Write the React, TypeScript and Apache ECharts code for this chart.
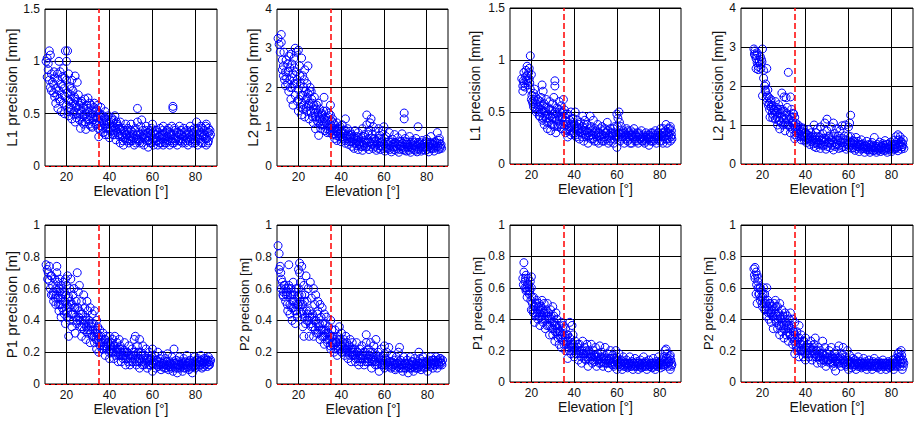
import React, { useEffect, useRef } from "react";
import * as echarts from "echarts";

// ---------- data ----------
const elevationGridTicks = [20, 40, 60, 80];
const cutoffElevation = 35;
const xAxisTitle = "Elevation [°]";
const yAxisTitles = [
  "L1 precision [mm]",
  "L2 precision [mm]",
  "L1 precision [mm]",
  "L2 precision [mm]",
  "P1 precision [m]",
  "P2 precision [m]",
  "P1 precision [m]",
  "P2 precision [m]",
];
const yAxisMax = [1.5, 4, 1.5, 4, 1, 1, 1, 1];
const yAxisInterval = [0.5, 1, 0.5, 1, 0.2, 0.2, 0.2, 0.2];

const l1PrecisionA = [
  [10.5,1.0],[11,1.03],[11.5,0.98],[12,1.1],[12.5,1.06],[11,0.85],[11.5,0.92],[12,0.82],[12.5,0.75],[13,0.72],[13,0.88],[13.5,0.8],[14,0.7],[14,0.78],[14.5,0.66],[14.5,0.84],[15,0.6],[15,0.74],
  [15.5,0.68],[16,0.82],[16,0.55],[16.5,1.0],[16.5,0.72],[17,0.62],[17,0.9],[17.5,0.78],[17.5,0.52],[18,0.68],[18,0.85],[18.5,0.6],[18.5,0.93],[19,0.74],[19,0.5],[19.5,1.1],[19.5,0.66],[20,1.0],[20,0.82],[20,0.58],[20.5,1.1],[20.5,0.7],
  [21,0.88],[21,0.62],[21,0.48],[21.5,0.76],[22,0.55],[22,0.68],[22.5,0.82],[22.5,0.45],[23,0.6],[23,0.72],[23.5,0.52],[24,0.86],[24,0.64],[24,0.42],[24.5,0.56],[25,0.8],[25,0.5],[25.5,0.68],
  [26,0.58],[26,0.44],[26.5,0.36],[27,0.52],[27,0.62],[27.5,0.47],[28,0.4],[28,0.56],[28.5,0.64],[29,0.35],[29,0.5],[29.5,0.45],[30,0.65],[30,0.55],[30.5,0.4],[31,0.48],[31.5,0.58],[32,0.37],[32,0.52],[32.5,0.44],[33,0.6],[33.5,0.48],[34,0.4],[34,0.54],[34.5,0.58],[35,0.28],[35,0.46],
  [35.5,0.5],[36,0.38],[36,0.56],[36.5,0.44],[37,0.32],[37,0.48],[37.5,0.4],[38,0.52],[38,0.3],[38.5,0.44],[39,0.36],[39.5,0.48],[40,0.27],[40,0.4],[40.5,0.34],[41,0.46],[41.5,0.3],[42,0.38],[42,0.44],[42.5,0.48],[43,0.25],[43,0.34],[43.5,0.4],[44,0.3],[44.5,0.36],[45,0.22],[45,0.42],
  [46,0.28],[46,0.36],[46.5,0.2],[47,0.32],[47.5,0.4],[48,0.24],[48,0.3],[48.5,0.36],[49,0.22],[49.5,0.28],[50,0.34],[50,0.4],[50.5,0.24],[51,0.3],[51.5,0.2],[52,0.36],[52.5,0.26],[53,0.55],[53,0.42],[53.5,0.32],[54,0.22],[54.5,0.38],[55,0.44],[55,0.28],[55.5,0.34],[56,0.2],[56.5,0.3],[57,0.38],[57.5,0.24],[58,0.18],[58,0.32],[58.5,0.28],[59,0.22],[59.5,0.36],[60,0.26],[60,0.4],
  [60.5,0.2],[61,0.3],[61.5,0.24],[62,0.34],[62.5,0.2],[63,0.28],[63.5,0.36],[64,0.22],[64.5,0.3],[65,0.2],[65,0.38],[65.5,0.26],[66,0.32],[66.5,0.22],[67,0.28],[67.5,0.36],[68,0.2],[68,0.32],[68.5,0.26],[69,0.38],[69.5,0.57],[69.5,0.55],[70,0.22],[70,0.3],[70.5,0.34],[71,0.26],[71.5,0.2],[72,0.32],[72.5,0.38],[73,0.24],[73.5,0.3],[74,0.22],[74.5,0.36],[75,0.28],[75.5,0.24],[76,0.34],[76.5,0.2],[77,0.3],[77.5,0.38],[78,0.26],[78.5,0.22],[79,0.32],[79.5,0.36],[80,0.24],[80.5,0.42],[80.5,0.3],[81,0.2],[81.5,0.34],[82,0.26],[82.5,0.38],[83,0.3],[83.5,0.22],[84,0.34],[84.5,0.26],[85,0.2],[85,0.4],[85.5,0.32],[86,0.24],[86,0.36],[86.5,0.28],[87,0.3],
];
const l1PrecisionAExtra = [
  [14.25,0.9],[15.75,0.88],[16.75,0.64],[18.25,0.76],[19.25,0.84],[20.75,0.52],[21.25,0.56],[21.75,0.64],[22.25,0.74],[23.25,0.5],[23.75,0.66],[24.25,0.58],[24.75,0.46],[25.25,0.62],[25.75,0.54],[26.25,0.5],[26.75,0.6],[27.25,0.42],[27.75,0.55],[28.25,0.48],[28.75,0.42],[29.25,0.58],[29.75,0.52],[30.25,0.44],[30.75,0.6],[31.25,0.38],[31.75,0.5],[32.25,0.46],[32.75,0.56],[33.25,0.4],[33.75,0.52],[34.25,0.46],[34.75,0.36],
  [35.25,0.42],[35.75,0.34],[36.25,0.48],[36.75,0.36],[37.25,0.42],[37.75,0.46],[38.25,0.36],[38.75,0.4],[39.25,0.3],[39.75,0.42],[40.25,0.36],[40.75,0.44],[41.25,0.38],[41.75,0.34],[42.25,0.3],[42.75,0.36],[43.25,0.42],[43.75,0.32],[44.25,0.38],[44.75,0.28],[45.25,0.34],[45.75,0.3],[46.25,0.24],[46.75,0.34],[47.25,0.26],[47.75,0.3],[48.25,0.34],[48.75,0.26],[49.25,0.32],[49.75,0.24],[50.25,0.28],[50.75,0.32],[51.25,0.26],[51.75,0.34],[52.25,0.22],[52.75,0.3],[53.25,0.26],[53.75,0.24],[54.25,0.3],[54.75,0.26],[55.25,0.22],[55.75,0.3],[56.25,0.26],[56.75,0.34],[57.25,0.28],[57.75,0.32],[58.25,0.24],[58.75,0.34],[59.25,0.3],[59.75,0.22],
  [60.25,0.32],[60.75,0.26],[61.25,0.34],[61.75,0.3],[62.25,0.24],[62.75,0.32],[63.25,0.22],[63.75,0.3],[64.25,0.26],[64.75,0.34],[65.25,0.3],[65.75,0.22],[66.25,0.28],[66.75,0.34],[67.25,0.24],[67.75,0.3],[68.25,0.24],[68.75,0.3],[69.25,0.22],[69.75,0.26],[70.25,0.36],[70.75,0.24],[71.25,0.32],[71.75,0.28],[72.25,0.24],[72.75,0.3],[73.25,0.34],[73.75,0.26],[74.25,0.28],[74.75,0.32],[75.25,0.22],[75.75,0.3],[76.25,0.26],[76.75,0.32],[77.25,0.24],[77.75,0.28],[78.25,0.34],[78.75,0.3],[79.25,0.26],[79.75,0.22],[80.25,0.28],[80.75,0.36],[81.25,0.26],[81.75,0.3],[82.25,0.32],[82.75,0.22],[83.25,0.36],[83.75,0.28],[84.25,0.3],[84.75,0.38],[85.25,0.26],[85.75,0.22],[86.25,0.32],[86.75,0.34],
];

const l2PrecisionA = [
  [10.5,3.25],[11,3.1],[11.5,2.9],[12,3.35],[12,3.15],[12.5,2.7],[12.5,2.45],[13,2.3],[13,2.55],[13.5,2.2],[14,2.4],[14,2.05],[14.5,2.25],[15,2.1],[15,2.6],
  [15.5,2.8],[15.5,1.9],[16,2.5],[16,2.2],[16.5,2.85],[16.5,1.7],[17,2.0],[17,2.6],[17.5,2.35],[17.5,1.55],[18,2.75],[18,2.1],[18.5,3.0],[18.5,1.8],[19,2.9],[19,2.4],[19.5,1.65],[19.5,2.2],[20,2.95],[20,1.95],[20,1.4],
  [20.5,2.55],[21,2.1],[21,1.5],[21.5,2.75],[21.5,1.3],[22,2.3],[22,1.8],[22.5,2.0],[22.5,1.55],[23,2.45],[23,1.25],[23.5,1.7],[24,2.1],[24,1.4],[24.5,2.55],[24.5,1.85],[25,1.6],[25,1.2],[25.5,2.0],
  [26,1.9],[26,1.35],[26.5,1.6],[27,1.1],[27,1.45],[27.5,1.75],[28,1.25],[28,0.95],[28.5,1.55],[29,1.35],[29.5,0.78],[29.5,1.1],[30,1.45],[30,1.2],[30.5,0.95],[31,1.3],[31.5,1.05],[32,1.75],[32,1.2],[32.5,0.9],[33,1.4],[33,1.1],[33.5,0.85],[34,1.25],[34.5,1.0],[35,1.55],[35,1.3],[35,0.9],
  [35.5,1.15],[36,0.8],[36,1.2],[36.5,0.95],[37,1.05],[37,0.7],[37.5,0.88],[38,1.1],[38,0.65],[38.5,0.95],[39,0.75],[39.5,1.0],[40,0.62],[40,0.85],[40.5,1.05],[41,0.7],[41.5,0.9],[42,0.58],[42,1.2],[42.5,0.78],[43,0.95],[43.5,0.55],[44,0.72],[44,0.88],[44.5,0.62],[45,0.8],[45,0.5],
  [46,0.68],[46,0.45],[46.5,0.9],[47,0.58],[47.5,0.75],[48,0.42],[48,0.85],[48.5,0.62],[49,0.5],[49.5,0.72],[50,0.95],[50,0.4],[50.5,0.6],[51,0.8],[51.5,0.48],[52,1.3],[52,1.05],[52.5,0.68],[53,0.9],[53,0.42],[53.5,1.1],[54,1.2],[54,0.58],[54.5,0.8],[55,1.0],[55,0.45],[55.5,0.7],[56,0.88],[56.5,0.4],[57,0.62],[57.5,0.95],[58,0.52],[58,0.78],[58.5,0.42],[59,0.68],[59.5,0.9],[60,0.55],[60,1.0],
  [60.5,0.38],[61,0.75],[61.5,0.6],[62,0.45],[62.5,0.85],[63,0.52],[63.5,0.36],[64,0.68],[64.5,0.48],[65,0.8],[65.5,0.4],[66,0.58],[66.5,0.72],[67,0.35],[67.5,0.5],[68,0.62],[68.5,0.82],[69,0.42],[69.5,1.35],[69.5,1.2],[70,0.55],[70,0.7],[70.5,0.38],[71,0.6],[71.5,0.48],[72,0.75],[72.5,0.35],[73,0.55],[73.5,0.65],[74,0.42],[74.5,0.52],[75,0.7],[75.5,0.36],[76,1.0],[76,0.6],[76.5,0.45],[77,0.55],[77.5,0.38],[78,0.65],[78.5,0.48],[79,0.58],[79.5,0.4],[80,0.68],[80.5,0.5],[81,0.36],[81.5,0.6],[82,0.75],[82.5,0.45],[83,0.55],[83.5,0.38],[84,0.62],[84.5,0.48],[85,0.85],[85.5,0.42],[86,0.58],[86,0.7],[86.5,0.5],[87,0.45],
];
const l2PrecisionAExtra = [
  [13.25,2.9],[14.25,2.7],[15.25,2.4],[16.25,2.0],[17.25,2.25],[18.25,2.5],[19.25,2.1],[20.25,1.7],[20.75,2.3],[21.25,1.8],[21.75,1.6],[22.25,1.45],[22.75,2.2],[23.25,1.9],[23.75,1.5],[24.25,1.75],[24.75,1.55],[25.25,1.9],[25.75,1.4],[26.25,1.7],[26.75,1.25],[27.25,1.55],[27.75,1.35],[28.25,1.45],[28.75,1.15],[29.25,1.6],[29.75,1.25],[30.25,1.05],[30.75,1.35],[31.25,1.15],[31.75,1.4],[32.25,1.05],[32.75,1.25],[33.25,0.95],[33.75,1.15],[34.25,1.35],[34.75,0.85],
  [35.25,1.05],[35.75,0.9],[36.25,1.1],[36.75,0.82],[37.25,0.95],[37.75,0.78],[38.25,0.9],[38.75,0.82],[39.25,0.95],[39.75,0.7],[40.25,0.9],[40.75,0.75],[41.25,0.82],[41.75,0.65],[42.25,0.9],[42.75,0.7],[43.25,0.8],[43.75,0.62],[44.25,0.78],[44.75,0.7],[45.25,0.62],[45.75,0.75],[46.25,0.58],[46.75,0.7],[47.25,0.52],[47.75,0.65],[48.25,0.72],[48.75,0.55],[49.25,0.62],[49.75,0.5],[50.25,0.75],[50.75,0.52],[51.25,0.65],[51.75,0.58],[52.25,0.5],[52.75,0.8],[53.25,0.6],[53.75,0.5],[54.25,0.7],[54.75,0.55],[55.25,0.62],[55.75,0.5],[56.25,0.65],[56.75,0.55],[57.25,0.45],[57.75,0.7],[58.25,0.6],[58.75,0.5],[59.25,0.62],[59.75,0.45],
  [60.25,0.7],[60.75,0.5],[61.25,0.45],[61.75,0.55],[62.25,0.62],[62.75,0.42],[63.25,0.6],[63.75,0.5],[64.25,0.55],[64.75,0.42],[65.25,0.6],[65.75,0.5],[66.25,0.45],[66.75,0.55],[67.25,0.62],[67.75,0.42],[68.25,0.5],[68.75,0.58],[69.25,0.48],[69.75,0.4],[70.25,0.62],[70.75,0.48],[71.25,0.55],[71.75,0.4],[72.25,0.5],[72.75,0.6],[73.25,0.45],[73.75,0.52],[74.25,0.6],[74.75,0.4],[75.25,0.5],[75.75,0.55],[76.25,0.42],[76.75,0.6],[77.25,0.48],[77.75,0.52],[78.25,0.42],[78.75,0.55],[79.25,0.48],[79.75,0.62],[80.25,0.42],[80.75,0.55],[81.25,0.5],[81.75,0.45],[82.25,0.58],[82.75,0.52],[83.25,0.45],[83.75,0.6],[84.25,0.52],[84.75,0.58],[85.25,0.5],[85.75,0.65],[86.25,0.45],[86.75,0.55],
];

const l1PrecisionB = [
  [15.5,0.82],[16,0.75],[16,0.7],[16.5,0.88],[16.5,0.78],[17,0.74],[17.5,0.9],[17.5,0.8],[18,0.94],[18,0.85],[18.5,0.76],[19,0.92],[19,0.82],[19.5,1.04],[19.5,0.72],[20,0.86],[20,0.62],
  [20.5,0.6],[21,0.55],[21,0.68],[21.5,0.72],[22,0.58],[22,0.64],[22.5,0.52],[23,0.62],[23.5,0.5],[24,0.56],[24,0.46],[24.5,0.64],[25,0.76],[25,0.52],[25.5,0.7],[25.5,0.44],
  [26,0.58],[26,0.38],[26.5,0.5],[27,0.62],[27,0.44],[27.5,0.34],[28,0.54],[28,0.4],[28.5,0.6],[29,0.46],[29,0.32],[29.5,0.52],[30,0.58],[30,0.38],[30.5,0.64],[31,0.8],[31,0.75],[31,0.44],[31.5,0.3],[32,0.54],[32,0.48],[32.5,0.36],[33,0.6],[33,0.42],[33.5,0.5],[34,0.34],[34,0.56],[34.5,0.45],[35,0.62],[35,0.38],
  [35.5,0.52],[36,0.3],[36,0.44],[36.5,0.38],[37,0.26],[37,0.48],[37.5,0.34],[38,0.42],[38.5,0.28],[38.5,0.5],[39,0.36],[39.5,0.44],[40,0.3],[40,0.38],[40.5,0.5],[41,0.26],[41.5,0.42],[42,0.34],[42.5,0.24],[43,0.4],[43.5,0.3],[44,0.46],[44,0.36],[44.5,0.22],[45,0.32],[45,0.42],
  [45.5,0.26],[46,0.38],[46.5,0.2],[47,0.3],[47.5,0.46],[48,0.24],[48,0.36],[48.5,0.28],[49,0.42],[49.5,0.22],[50,0.32],[50.5,0.26],[51,0.38],[51.5,0.2],[52,0.3],[52.5,0.24],[53,0.36],[53.5,0.28],[54,0.22],[54.5,0.34],[55,0.3],[55.5,0.4],[56,0.2],[56.5,0.28],[57,0.34],[57.5,0.24],[58,0.3],[58.5,0.2],[59,0.36],[59.5,0.26],[60,0.16],[60,0.48],[60.5,0.44],
  [61,0.5],[61,0.3],[61.5,0.22],[62,0.36],[62.5,0.26],[63,0.32],[63.5,0.2],[64,0.28],[64.5,0.34],[65,0.22],[65.5,0.3],[66,0.24],[66.5,0.32],[67,0.2],[67.5,0.28],[68,0.34],[68.5,0.22],[69,0.26],[69.5,0.3],[70,0.2],[70.5,0.28],[71,0.24],[71.5,0.32],[72,0.22],[72.5,0.26],[73,0.2],[73.5,0.3],[74,0.24],[74.5,0.28],[75,0.18],[75.5,0.26],[76,0.3],[76.5,0.22],[77,0.28],[77.5,0.24],[78,0.32],[78.5,0.2],[79,0.26],[79.5,0.3],[80,0.22],[80.5,0.34],[81,0.26],[81.5,0.2],[82,0.3],[82.5,0.24],[83,0.38],[83,0.28],[83.5,0.2],[84,0.34],[84,0.24],[84.5,0.3],[85,0.22],[85,0.36],[85.5,0.28],[85.5,0.32],
];
const l1PrecisionBExtra = [
  [16.25,0.8],[17.25,0.84],[18.25,0.8],[18.75,0.88],[19.25,0.78],[20.25,0.66],[20.75,0.58],[21.25,0.62],[21.75,0.54],[22.25,0.5],[22.75,0.6],[23.25,0.55],[23.75,0.46],[24.25,0.6],[24.75,0.5],[25.25,0.42],[25.75,0.56],[26.25,0.46],[26.75,0.54],[27.25,0.4],[27.75,0.48],[28.25,0.44],[28.75,0.52],[29.25,0.38],[29.75,0.44],[30.25,0.48],[30.75,0.36],[31.25,0.5],[31.75,0.42],[32.25,0.38],[32.75,0.46],[33.25,0.52],[33.75,0.38],[34.25,0.44],[34.75,0.5],
  [35.25,0.34],[35.75,0.42],[36.25,0.48],[36.75,0.32],[37.25,0.4],[37.75,0.36],[38.25,0.32],[38.75,0.38],[39.25,0.3],[39.75,0.4],[40.25,0.34],[40.75,0.28],[41.25,0.36],[41.75,0.32],[42.25,0.38],[42.75,0.3],[43.25,0.34],[43.75,0.26],[44.25,0.32],[44.75,0.38],[45.25,0.28],[45.75,0.32],[46.25,0.3],[46.75,0.26],[47.25,0.34],[47.75,0.28],[48.25,0.32],[48.75,0.24],[49.25,0.3],[49.75,0.34],[50.25,0.28],[50.75,0.22],[51.25,0.3],[51.75,0.26],[52.25,0.34],[52.75,0.28],[53.25,0.22],[53.75,0.32],[54.25,0.26],[54.75,0.3],[55.25,0.24],[55.75,0.32],[56.25,0.26],[56.75,0.22],[57.25,0.3],[57.75,0.28],[58.25,0.34],[58.75,0.24],[59.25,0.3],[59.75,0.28],
  [60.25,0.36],[60.75,0.26],[61.25,0.4],[61.75,0.28],[62.25,0.24],[62.75,0.3],[63.25,0.26],[63.75,0.3],[64.25,0.24],[64.75,0.28],[65.25,0.32],[65.75,0.26],[66.25,0.2],[66.75,0.28],[67.25,0.26],[67.75,0.3],[68.25,0.24],[68.75,0.28],[69.25,0.22],[69.75,0.26],[70.25,0.3],[70.75,0.24],[71.25,0.26],[71.75,0.22],[72.25,0.28],[72.75,0.24],[73.25,0.26],[73.75,0.22],[74.25,0.26],[74.75,0.24],[75.25,0.28],[75.75,0.22],[76.25,0.26],[76.75,0.3],[77.25,0.22],[77.75,0.26],[78.25,0.28],[78.75,0.24],[79.25,0.3],[79.75,0.26],[80.25,0.28],[80.75,0.22],[81.25,0.3],[81.75,0.34],[82.25,0.26],[82.75,0.32],[83.25,0.24],[83.75,0.3],[84.25,0.28],[84.75,0.34],[85.25,0.26],[85.75,0.24],
];

const l2PrecisionB = [
  [16,2.95],[16.5,2.9],[16.5,2.78],[17,2.7],[17,2.45],[17.5,2.6],[17.5,2.85],[18,2.5],[18,2.42],[18.5,2.65],[19,2.75],[19,2.55],[19.5,2.68],[20,2.95],[20,1.75],[20.5,2.2],[20.5,2.4],
  [21,2.0],[21.5,1.85],[21.5,2.05],[22,2.45],[22,1.6],[22.5,1.9],[23,1.55],[23,1.7],[23.5,1.2],[24,1.45],[24,1.65],[24.5,1.3],[25,1.5],[25,1.25],
  [25.5,1.38],[26,1.6],[26,1.15],[26.5,1.45],[27,1.0],[27,1.3],[27.5,1.52],[28,1.12],[28,0.9],[28.5,1.4],[29,1.82],[29,1.2],[29.5,1.0],[30,1.72],[30,1.35],[30.5,0.85],[31,1.7],[31,1.15],[31.5,1.45],[32,2.35],[32,1.0],[32.5,1.25],[33,1.72],[33,0.8],[33.5,1.4],[34,1.1],[34,0.9],[34.5,1.28],[35,0.65],[35,1.2],[35,0.75],
  [35.5,1.05],[36,0.9],[36,0.7],[36.5,1.0],[37,0.78],[37.5,0.95],[38,0.62],[38,0.85],[38.5,0.72],[39,0.92],[39.5,0.6],[40,0.8],[40,0.68],[40.5,0.55],[41,0.75],[41.5,0.88],[42,0.5],[42,0.65],[42.5,0.8],[43,0.58],[43.5,0.72],[44,0.45],[44,1.0],[44.5,0.62],[45,0.8],[45,0.42],
  [45.5,0.9],[46,0.55],[46.5,0.7],[47,0.4],[47,0.95],[47.5,0.62],[48,0.78],[48.5,0.48],[49,1.05],[49,0.65],[49.5,0.38],[50,1.15],[50,0.85],[50.5,0.55],[51,0.72],[51.5,0.42],[52,0.95],[52.5,0.6],[53,1.05],[53,0.36],[53.5,0.78],[54,0.5],[54.5,0.9],[55,0.62],[55.5,0.4],[56,0.85],[56.5,0.55],[57,0.98],[57.5,0.45],[58,0.72],[58.5,1.0],[59,0.38],[59.5,0.6],[60,0.95],[60,0.5],
  [60.5,1.05],[61,1.25],[61,0.7],[61.5,0.4],[62,0.6],[62.5,0.5],[63,0.35],[63.5,0.68],[64,0.45],[64.5,0.58],[65,0.32],[65.5,0.5],[66,0.62],[66.5,0.4],[67,0.52],[67.5,0.3],[68,0.46],[68.5,0.58],[69,0.36],[69.5,0.5],[70,0.3],[70.5,0.44],[71,0.55],[71.5,0.34],[72,0.68],[72.5,0.42],[73,0.3],[73.5,0.5],[74,0.38],[74.5,0.56],[75,0.32],[75.5,0.45],[76,0.52],[76.5,0.35],[77,0.6],[77.5,0.42],[78,0.3],[78.5,0.5],[79,0.38],[79.5,0.56],[80,0.32],[80.5,0.46],[81,0.6],[81.5,0.38],[82,0.7],[82,0.5],[82.5,0.42],[83,0.75],[83,0.34],[83.5,0.62],[84,0.48],[84,0.7],[84.5,0.38],[85,0.55],[85,0.44],[85.5,0.62],
];
const l2PrecisionBExtra = [
  [16.25,2.82],[17.25,2.78],[18.25,2.6],[19.25,2.45],[19.75,2.62],[21.25,1.9],[21.75,1.7],[22.25,1.75],[22.75,1.5],[23.25,1.4],[23.75,1.6],[24.25,1.5],[24.75,1.18],[25.25,1.4],[25.75,1.3],[26.25,1.35],[26.75,1.2],[27.25,1.4],[27.75,1.1],[28.25,1.3],[28.75,1.05],[29.25,1.4],[29.75,1.15],[30.25,1.25],[30.75,1.05],[31.25,1.3],[31.75,1.0],[32.25,1.15],[32.75,0.95],[33.25,1.2],[33.75,1.05],[34.25,1.3],[34.75,1.0],
  [35.25,0.9],[35.75,0.8],[36.25,0.95],[36.75,0.85],[37.25,0.7],[37.75,0.82],[38.25,0.75],[38.75,0.88],[39.25,0.7],[39.75,0.8],[40.25,0.62],[40.75,0.75],[41.25,0.65],[41.75,0.72],[42.25,0.58],[42.75,0.7],[43.25,0.62],[43.75,0.52],[44.25,0.68],[44.75,0.55],[45.25,0.62],[45.75,0.5],[46.25,0.68],[46.75,0.52],[47.25,0.6],[47.75,0.48],[48.25,0.66],[48.75,0.56],[49.25,0.5],[49.75,0.62],[50.25,0.45],[50.75,0.7],[51.25,0.55],[51.75,0.62],[52.25,0.48],[52.75,0.7],[53.25,0.55],[53.75,0.45],[54.25,0.62],[54.75,0.5],[55.25,0.72],[55.75,0.48],[56.25,0.6],[56.75,0.42],[57.25,0.65],[57.75,0.55],[58.25,0.45],[58.75,0.62],[59.25,0.5],[59.75,0.72],
  [60.25,0.42],[60.75,0.55],[61.25,0.48],[61.75,0.55],[62.25,0.42],[62.75,0.58],[63.25,0.48],[63.75,0.4],[64.25,0.52],[64.75,0.44],[65.25,0.48],[65.75,0.38],[66.25,0.5],[66.75,0.45],[67.25,0.4],[67.75,0.48],[68.25,0.38],[68.75,0.44],[69.25,0.42],[69.75,0.36],[70.25,0.48],[70.75,0.38],[71.25,0.42],[71.75,0.46],[72.25,0.36],[72.75,0.45],[73.25,0.4],[73.75,0.35],[74.25,0.46],[74.75,0.4],[75.25,0.42],[75.75,0.36],[76.25,0.48],[76.75,0.4],[77.25,0.35],[77.75,0.5],[78.25,0.42],[78.75,0.38],[79.25,0.46],[79.75,0.4],[80.25,0.5],[80.75,0.38],[81.25,0.44],[81.75,0.5],[82.25,0.4],[82.75,0.6],[83.25,0.45],[83.75,0.52],[84.25,0.58],[84.75,0.44],[85.25,0.5],[85.75,0.4],
];

const p1PrecisionA = [
  [10.5,0.75],[11,0.72],[11.5,0.7],[12,0.74],[12,0.65],[12.5,0.6],[13,0.56],[13,0.68],[13.5,0.62],[14,0.52],[14,0.58],[14.5,0.66],[15,0.5],[15,0.6],
  [15.5,0.74],[15.5,0.7],[16,0.64],[16,0.54],[16.5,0.6],[16.5,0.46],[17,0.58],[17,0.5],[17.5,0.42],[17.5,0.62],[18,0.56],[18,0.48],[18.5,0.52],[18.5,0.64],[19,0.44],[19,0.58],[19.5,0.66],[19.5,0.38],[20,0.5],[20,0.62],
  [20.5,0.68],[20.5,0.45],[21,0.3],[21,0.55],[21.5,0.6],[21.5,0.4],[22,0.66],[22,0.5],[22.5,0.36],[23,0.56],[23,0.44],[23.5,0.6],[24,0.32],[24,0.48],[24.5,0.52],[25,0.7],[25,0.4],[25.5,0.58],
  [26,0.46],[26,0.62],[26.5,0.36],[27,0.52],[27,0.3],[27.5,0.44],[28,0.56],[28,0.38],[28.5,0.48],[29,0.28],[29,0.42],[29.5,0.52],[30,0.34],[30,0.46],[30.5,0.4],[31,0.26],[31,0.48],[31.5,0.36],[32,0.3],[32,0.44],[32.5,0.38],[33,0.46],[33,0.26],[33.5,0.32],[34,0.4],[34,0.22],[34.5,0.36],[35,0.2],[35,0.3],
  [35.5,0.34],[36,0.26],[36,0.3],[36.5,0.22],[37,0.32],[37.5,0.24],[38,0.28],[38,0.18],[38.5,0.3],[39,0.22],[39.5,0.26],[40,0.16],[40,0.3],[40.5,0.24],[41,0.2],[41.5,0.28],[42,0.16],[42,0.24],[42.5,0.3],[43,0.2],[43.5,0.26],[44,0.14],[44,0.22],[44.5,0.28],[45,0.18],[45,0.24],
  [45.5,0.14],[46,0.22],[46.5,0.18],[47,0.26],[47.5,0.12],[48,0.2],[48.5,0.16],[49,0.24],[49.5,0.12],[50,0.18],[50.5,0.22],[51,0.14],[51.5,0.28],[52,0.3],[52,0.2],[52.5,0.12],[53,0.24],[53.5,0.16],[54,0.28],[54,0.1],[54.5,0.2],[55,0.14],[55.5,0.24],[56,0.12],[56.5,0.18],[57,0.22],[57.5,0.1],[58,0.16],[58.5,0.2],[59,0.12],[59.5,0.18],[60,0.08],[60,0.22],
  [60.5,0.14],[61,0.18],[61.5,0.1],[62,0.15],[62.5,0.2],[63,0.12],[63.5,0.16],[64,0.09],[64.5,0.18],[65,0.13],[65.5,0.1],[66,0.16],[66.5,0.12],[67,0.19],[67.5,0.09],[68,0.14],[68.5,0.11],[69,0.17],[69.5,0.08],[70,0.22],[70,0.13],[70.5,0.1],[71,0.15],[71.5,0.07],[72,0.12],[72.5,0.17],[73,0.1],[73.5,0.14],[74,0.08],[74.5,0.16],[75,0.12],[75.5,0.1],[76,0.18],[76.5,0.13],[77,0.09],[77.5,0.15],[78,0.11],[78.5,0.07],[79,0.14],[79.5,0.17],[80,0.1],[80.5,0.13],[81,0.16],[81.5,0.11],[82,0.14],[82.5,0.18],[83,0.1],[83.5,0.13],[84,0.16],[84.5,0.12],[85,0.15],[85.5,0.11],[86,0.14],[86,0.17],[86.5,0.12],[87,0.15],
];
const p1PrecisionAExtra = [
  [11.25,0.66],[12.75,0.68],[13.75,0.56],[14.75,0.54],[15.25,0.56],[16.25,0.5],[16.75,0.66],[17.25,0.54],[17.75,0.5],[18.25,0.6],[18.75,0.46],[19.25,0.52],[19.75,0.56],[20.25,0.42],[20.75,0.54],[21.25,0.48],[21.75,0.52],[22.25,0.44],[22.75,0.5],[23.25,0.4],[23.75,0.48],[24.25,0.42],[24.75,0.38],[25.25,0.48],[25.75,0.42],[26.25,0.4],[26.75,0.44],[27.25,0.36],[27.75,0.4],[28.25,0.34],[28.75,0.4],[29.25,0.36],[29.75,0.32],[30.25,0.38],[30.75,0.34],[31.25,0.32],[31.75,0.38],[32.25,0.34],[32.75,0.3],[33.25,0.34],[33.75,0.28],[34.25,0.32],[34.75,0.28],
  [35.25,0.26],[35.75,0.24],[36.25,0.28],[36.75,0.26],[37.25,0.22],[37.75,0.28],[38.25,0.24],[38.75,0.22],[39.25,0.26],[39.75,0.2],[40.25,0.22],[40.75,0.26],[41.25,0.22],[41.75,0.2],[42.25,0.24],[42.75,0.18],[43.25,0.22],[43.75,0.2],[44.25,0.18],[44.75,0.22],[45.25,0.2],[45.75,0.18],[46.25,0.16],[46.75,0.2],[47.25,0.18],[47.75,0.16],[48.25,0.2],[48.75,0.14],[49.25,0.18],[49.75,0.16],[50.25,0.14],[50.75,0.18],[51.25,0.2],[51.75,0.16],[52.25,0.18],[52.75,0.14],[53.25,0.2],[53.75,0.14],[54.25,0.16],[54.75,0.18],[55.25,0.12],[55.75,0.16],[56.25,0.15],[56.75,0.13],[57.25,0.16],[57.75,0.14],[58.25,0.12],[58.75,0.15],[59.25,0.16],[59.75,0.13],
  [60.25,0.12],[60.75,0.15],[61.25,0.13],[61.75,0.12],[62.25,0.14],[62.75,0.11],[63.25,0.14],[63.75,0.12],[64.25,0.13],[64.75,0.11],[65.25,0.14],[65.75,0.12],[66.25,0.1],[66.75,0.14],[67.25,0.12],[67.75,0.11],[68.25,0.13],[68.75,0.1],[69.25,0.12],[69.75,0.14],[70.25,0.11],[70.75,0.13],[71.25,0.12],[71.75,0.1],[72.25,0.14],[72.75,0.12],[73.25,0.11],[73.75,0.13],[74.25,0.12],[74.75,0.1],[75.25,0.14],[75.75,0.12],[76.25,0.11],[76.75,0.14],[77.25,0.12],[77.75,0.1],[78.25,0.13],[78.75,0.12],[79.25,0.11],[79.75,0.14],[80.25,0.12],[80.75,0.15],[81.25,0.12],[81.75,0.14],[82.25,0.12],[82.75,0.15],[83.25,0.13],[83.75,0.11],[84.25,0.14],[84.75,0.16],[85.25,0.13],[85.75,0.15],[86.25,0.12],[86.75,0.14],
];

const p2PrecisionA = [
  [10.5,0.87],[11,0.82],[11,0.72],[11.5,0.74],[12,0.66],[12,0.6],[12.5,0.64],[13,0.58],[13,0.55],[13.5,0.62],[14,0.6],[14,0.52],[14.5,0.58],[15,0.56],[15,0.46],
  [15.5,0.75],[15.5,0.62],[16,0.5],[16,0.44],[16.5,0.6],[17,0.56],[17,0.4],[17.5,0.64],[17.5,0.48],[18,0.52],[18,0.58],[18.5,0.38],[19,0.6],[19,0.46],[19.5,0.55],[19.5,0.42],[20,0.72],[20,0.6],[20,0.5],
  [20.5,0.76],[20.5,0.7],[21,0.64],[21,0.45],[21.5,0.74],[21.5,0.56],[22,0.36],[22,0.5],[22.5,0.62],[22.5,0.3],[23,0.42],[23,0.56],[23.5,0.68],[24,0.4],[24,0.52],[24.5,0.6],[25,0.3],[25,0.46],[25.5,0.64],
  [26,0.54],[26,0.36],[26.5,0.44],[27,0.6],[27,0.3],[27.5,0.5],[28,0.4],[28,0.56],[28.5,0.32],[29,0.46],[29,0.52],[29.5,0.36],[30,0.5],[30,0.28],[30.5,0.42],[31,0.48],[31,0.34],[31.5,0.3],[32,0.44],[32,0.25],[32.5,0.38],[33,0.32],[33,0.42],[33.5,0.26],[34,0.36],[34.5,0.3],[35,0.4],[35,0.22],
  [35.5,0.34],[36,0.26],[36,0.3],[36.5,0.2],[37,0.34],[37.5,0.26],[38,0.3],[38,0.18],[38.5,0.24],[39,0.36],[39.5,0.28],[40,0.2],[40,0.32],[40.5,0.24],[41,0.28],[41.5,0.18],[42,0.3],[42,0.22],[42.5,0.26],[43,0.16],[43.5,0.24],[44,0.28],[44,0.2],[44.5,0.14],[45,0.22],[45,0.26],
  [45.5,0.18],[46,0.22],[46.5,0.14],[47,0.26],[47.5,0.2],[48,0.12],[48.5,0.22],[49,0.16],[49.5,0.24],[50,0.18],[50.5,0.12],[51,0.2],[51.5,0.31],[51.5,0.26],[52,0.14],[52.5,0.22],[53,0.18],[53.5,0.26],[54,0.1],[54.5,0.2],[55,0.24],[55.5,0.14],[56,0.28],[56,0.18],[56.5,0.12],[57,0.2],[57.5,0.08],[58,0.16],[58.5,0.22],[59,0.12],[59.5,0.18],[60,0.24],[60,0.1],
  [60.5,0.16],[61,0.2],[61.5,0.12],[62,0.23],[62.5,0.14],[63,0.1],[63.5,0.18],[64,0.12],[64.5,0.15],[65,0.09],[65.5,0.17],[66,0.13],[66.5,0.2],[67,0.1],[67,0.23],[67.5,0.15],[68,0.12],[68.5,0.08],[69,0.17],[69.5,0.13],[70,0.1],[70.5,0.15],[71,0.07],[71.5,0.12],[72,0.17],[72.5,0.1],[73,0.14],[73.5,0.08],[74,0.16],[74.5,0.12],[75,0.1],[75.5,0.14],[76,0.2],[76,0.11],[76.5,0.16],[77,0.09],[77.5,0.13],[78,0.17],[78.5,0.1],[79,0.14],[79.5,0.12],[80,0.08],[80.5,0.15],[81,0.11],[81.5,0.17],[82,0.13],[82.5,0.1],[83,0.15],[83.5,0.12],[84,0.17],[84.5,0.1],[85,0.14],[85.5,0.12],[86,0.16],[86.5,0.13],[87,0.15],
];
const p2PrecisionAExtra = [
  [11.75,0.7],[12.75,0.56],[13.25,0.62],[14.25,0.56],[14.75,0.5],[15.25,0.6],[16.25,0.56],[16.75,0.48],[17.25,0.52],[17.75,0.56],[18.25,0.46],[18.75,0.5],[19.25,0.44],[19.75,0.5],[20.25,0.56],[20.75,0.52],[21.25,0.5],[21.75,0.44],[22.25,0.46],[22.75,0.52],[23.25,0.38],[23.75,0.46],[24.25,0.44],[24.75,0.4],[25.25,0.42],[25.75,0.38],[26.25,0.42],[26.75,0.36],[27.25,0.4],[27.75,0.34],[28.25,0.38],[28.75,0.44],[29.25,0.32],[29.75,0.38],[30.25,0.34],[30.75,0.3],[31.25,0.38],[31.75,0.34],[32.25,0.3],[32.75,0.34],[33.25,0.28],[33.75,0.32],[34.25,0.28],[34.75,0.24],
  [35.25,0.3],[35.75,0.26],[36.25,0.24],[36.75,0.28],[37.25,0.22],[37.75,0.26],[38.25,0.22],[38.75,0.28],[39.25,0.22],[39.75,0.24],[40.25,0.2],[40.75,0.26],[41.25,0.22],[41.75,0.24],[42.25,0.2],[42.75,0.22],[43.25,0.2],[43.75,0.18],[44.25,0.22],[44.75,0.2],[45.25,0.18],[45.75,0.2],[46.25,0.18],[46.75,0.16],[47.25,0.2],[47.75,0.16],[48.25,0.18],[48.75,0.14],[49.25,0.18],[49.75,0.16],[50.25,0.2],[50.75,0.16],[51.25,0.14],[51.75,0.18],[52.25,0.16],[52.75,0.14],[53.25,0.2],[53.75,0.16],[54.25,0.14],[54.75,0.17],[55.25,0.15],[55.75,0.12],[56.25,0.16],[56.75,0.14],[57.25,0.17],[57.75,0.13],[58.25,0.15],[58.75,0.12],[59.25,0.15],[59.75,0.13],
  [60.25,0.12],[60.75,0.15],[61.25,0.13],[61.75,0.11],[62.25,0.14],[62.75,0.12],[63.25,0.14],[63.75,0.11],[64.25,0.13],[64.75,0.12],[65.25,0.1],[65.75,0.13],[66.25,0.11],[66.75,0.14],[67.25,0.12],[67.75,0.1],[68.25,0.13],[68.75,0.12],[69.25,0.1],[69.75,0.13],[70.25,0.12],[70.75,0.11],[71.25,0.13],[71.75,0.1],[72.25,0.12],[72.75,0.14],[73.25,0.11],[73.75,0.12],[74.25,0.1],[74.75,0.13],[75.25,0.12],[75.75,0.1],[76.25,0.13],[76.75,0.12],[77.25,0.11],[77.75,0.14],[78.25,0.12],[78.75,0.13],[79.25,0.11],[79.75,0.14],[80.25,0.12],[80.75,0.13],[81.25,0.14],[81.75,0.12],[82.25,0.15],[82.75,0.13],[83.25,0.12],[83.75,0.14],[84.25,0.13],[84.75,0.15],[85.25,0.13],[85.75,0.16],[86.25,0.14],[86.75,0.12],
];

const p1PrecisionB = [
  [16,0.66],[16.5,0.76],[16.5,0.7],[17,0.64],[17,0.6],[17.5,0.68],[17.5,0.58],[18,0.62],[18,0.54],[18.5,0.66],[19,0.6],[19,0.56],[19.5,0.64],[20,0.67],[20,0.6],[20,0.46],
  [20.5,0.5],[21,0.44],[21,0.54],[21.5,0.38],[22,0.48],[22,0.42],[22.5,0.52],[23,0.46],[23,0.4],[23.5,0.5],[24,0.44],[24,0.36],[24.5,0.48],[25,0.52],[25,0.42],[25.5,0.38],
  [26,0.5],[26,0.44],[26.5,0.34],[27,0.46],[27,0.4],[27.5,0.5],[28,0.36],[28,0.44],[28.5,0.3],[29,0.46],[29,0.4],[29.5,0.34],[30,0.48],[30,0.3],[30.5,0.42],[31,0.36],[31,0.26],[31.5,0.44],[32,0.32],[32,0.4],[32.5,0.28],[33,0.36],[33,0.24],[33.5,0.32],[34,0.38],[34,0.22],[34.5,0.3],[35,0.26],[35,0.36],
  [35.5,0.3],[36,0.2],[36,0.34],[36.5,0.26],[37,0.15],[37,0.3],[37.5,0.22],[38,0.38],[38,0.28],[38.5,0.18],[39,0.36],[39,0.24],[39.5,0.3],[40,0.2],[40,0.16],
  [40.5,0.26],[41,0.18],[41.5,0.22],[42,0.14],[42.5,0.24],[43,0.2],[43.5,0.12],[44,0.26],[44.5,0.18],[45,0.22],[45.5,0.14],[46,0.24],[46.5,0.1],[47,0.2],[47.5,0.16],[48,0.24],[48.5,0.12],[49,0.2],[49.5,0.16],[50,0.22],[50.5,0.1],[51,0.18],[51.5,0.14],[52,0.23],[52.5,0.12],[53,0.19],[53.5,0.1],[54,0.16],[54.5,0.22],[55,0.12],[55.5,0.18],[56,0.09],[56.5,0.15],[57,0.2],[57.5,0.12],[58,0.17],[58.5,0.1],[59,0.14],[59.5,0.2],[60,0.08],[60,0.16],
  [60.5,0.12],[61,0.18],[61.5,0.1],[62,0.14],[62.5,0.08],[63,0.16],[63.5,0.12],[64,0.1],[64.5,0.14],[65,0.09],[65.5,0.12],[66,0.16],[66.5,0.1],[67,0.13],[67.5,0.08],[68,0.12],[68.5,0.15],[69,0.1],[69.5,0.13],[70,0.08],[70.5,0.11],[71,0.14],[71.5,0.09],[72,0.12],[72.5,0.16],[73,0.1],[73.5,0.13],[74,0.08],[74.5,0.11],[75,0.14],[75.5,0.1],[76,0.12],[76.5,0.09],[77,0.15],[77.5,0.11],[78,0.08],[78.5,0.13],[79,0.1],[79.5,0.16],[80,0.12],[80.5,0.09],[81,0.14],[81.5,0.11],[82,0.16],[82.5,0.2],[83,0.21],[83,0.12],[83.5,0.18],[84,0.1],[84,0.15],[84.5,0.13],[85,0.17],[85,0.08],[85.5,0.12],[85.5,0.1],
];
const p1PrecisionBExtra = [
  [16.25,0.62],[17.25,0.66],[17.75,0.6],[18.25,0.58],[18.75,0.62],[19.25,0.58],[19.75,0.52],[20.25,0.54],[20.75,0.46],[21.25,0.48],[21.75,0.44],[22.25,0.5],[22.75,0.44],[23.25,0.48],[23.75,0.42],[24.25,0.46],[24.75,0.4],[25.25,0.46],[25.75,0.44],[26.25,0.4],[26.75,0.44],[27.25,0.36],[27.75,0.42],[28.25,0.4],[28.75,0.36],[29.25,0.42],[29.75,0.38],[30.25,0.34],[30.75,0.38],[31.25,0.32],[31.75,0.36],[32.25,0.34],[32.75,0.3],[33.25,0.32],[33.75,0.28],[34.25,0.3],[34.75,0.34],
  [35.25,0.24],[35.75,0.28],[36.25,0.24],[36.75,0.3],[37.25,0.26],[37.75,0.2],[38.25,0.24],[38.75,0.22],[39.25,0.2],[39.75,0.24],[40.25,0.22],[40.75,0.18],[41.25,0.2],[41.75,0.24],[42.25,0.18],[42.75,0.2],[43.25,0.16],[43.75,0.2],[44.25,0.18],[44.75,0.15],[45.25,0.18],[45.75,0.2],[46.25,0.16],[46.75,0.18],[47.25,0.14],[47.75,0.18],[48.25,0.16],[48.75,0.14],[49.25,0.17],[49.75,0.13],[50.25,0.16],[50.75,0.14],[51.25,0.16],[51.75,0.12],[52.25,0.15],[52.75,0.16],[53.25,0.13],[53.75,0.15],[54.25,0.12],[54.75,0.14],[55.25,0.15],[55.75,0.12],[56.25,0.14],[56.75,0.12],[57.25,0.15],[57.75,0.11],[58.25,0.13],[58.75,0.15],[59.25,0.11],[59.75,0.13],
  [60.25,0.14],[60.75,0.11],[61.25,0.13],[61.75,0.12],[62.25,0.11],[62.75,0.13],[63.25,0.1],[63.75,0.12],[64.25,0.11],[64.75,0.12],[65.25,0.1],[65.75,0.11],[66.25,0.12],[66.75,0.1],[67.25,0.11],[67.75,0.12],[68.25,0.1],[68.75,0.11],[69.25,0.12],[69.75,0.1],[70.25,0.12],[70.75,0.1],[71.25,0.11],[71.75,0.12],[72.25,0.1],[72.75,0.11],[73.25,0.12],[73.75,0.1],[74.25,0.12],[74.75,0.11],[75.25,0.1],[75.75,0.12],[76.25,0.11],[76.75,0.12],[77.25,0.1],[77.75,0.12],[78.25,0.11],[78.75,0.1],[79.25,0.12],[79.75,0.11],[80.25,0.13],[80.75,0.11],[81.25,0.12],[81.75,0.1],[82.25,0.13],[82.75,0.11],[83.25,0.15],[83.75,0.13],[84.25,0.12],[84.75,0.16],[85.25,0.14],[85.75,0.11],
];

const p2PrecisionB = [
  [16,0.72],[16.5,0.73],[16.5,0.66],[17,0.7],[17,0.56],[17.5,0.68],[17.5,0.5],[18,0.66],[18,0.6],[18.5,0.56],[19,0.6],[19,0.52],[19.5,0.58],[20,0.54],[20,0.48],[20.5,0.6],
  [21,0.56],[21,0.46],[21.5,0.5],[22,0.6],[22,0.42],[22.5,0.52],[23,0.46],[23,0.4],[23.5,0.5],[24,0.44],[24,0.38],[24.5,0.48],[25,0.42],[25,0.34],[25.5,0.5],
  [26,0.52],[26,0.44],[26.5,0.38],[27,0.48],[27,0.34],[27.5,0.44],[28,0.3],[28,0.5],[28.5,0.4],[29,0.46],[29,0.32],[29.5,0.42],[30,0.36],[30,0.28],[30.5,0.44],[31,0.38],[31,0.3],[31.5,0.42],[32,0.34],[32,0.26],[32.5,0.4],[33,0.44],[33,0.3],[33.5,0.36],[34,0.24],[34,0.4],[34.5,0.32],[35,0.18],[35,0.28],[35,0.38],
  [35.5,0.24],[36,0.32],[36,0.2],[36.5,0.28],[37,0.36],[37,0.16],[37.5,0.24],[38,0.3],[38,0.2],[38.5,0.26],[39,0.16],[39.5,0.22],[40,0.28],[40,0.14],[40.5,0.2],[41,0.24],[41.5,0.16],[42,0.22],[42.5,0.26],[43,0.14],[43.5,0.2],[44,0.24],[44.5,0.28],[45,0.16],[45,0.2],
  [45.5,0.12],[46,0.22],[46.5,0.16],[47,0.2],[47.5,0.12],[48,0.26],[48,0.18],[48.5,0.14],[49,0.22],[49.5,0.1],[50,0.18],[50.5,0.14],[51,0.2],[51.5,0.12],[52,0.22],[52.5,0.16],[53,0.1],[53.5,0.18],[54,0.07],[54,0.14],[54.5,0.2],[55,0.12],[55.5,0.23],[56,0.16],[56.5,0.1],[57,0.18],[57.5,0.22],[58,0.12],[58.5,0.16],[59,0.1],[59.5,0.2],[60,0.14],[60,0.08],
  [60.5,0.17],[61,0.12],[61.5,0.09],[62,0.15],[62.5,0.11],[63,0.14],[63.5,0.08],[64,0.12],[64.5,0.16],[65,0.1],[65.5,0.13],[66,0.09],[66.5,0.12],[67,0.15],[67.5,0.1],[68,0.13],[68.5,0.08],[69,0.11],[69.5,0.14],[70,0.1],[70.5,0.12],[71,0.08],[71.5,0.13],[72,0.15],[72.5,0.1],[73,0.12],[73.5,0.09],[74,0.13],[74.5,0.11],[75,0.08],[75.5,0.12],[76,0.14],[76.5,0.1],[77,0.12],[77.5,0.08],[78,0.11],[78.5,0.13],[79,0.09],[79.5,0.12],[80,0.1],[80.5,0.14],[81,0.08],[81.5,0.12],[82,0.15],[82.5,0.1],[83,0.18],[83,0.13],[83.5,0.19],[84,0.16],[84,0.1],[84.5,0.2],[84.5,0.14],[85,0.12],[85,0.08],[85.5,0.1],
];
const p2PrecisionBExtra = [
  [16.25,0.68],[17.25,0.62],[17.75,0.64],[18.25,0.56],[18.75,0.6],[19.25,0.54],[19.75,0.5],[20.25,0.56],[20.75,0.5],[21.25,0.52],[21.75,0.46],[22.25,0.48],[22.75,0.44],[23.25,0.5],[23.75,0.44],[24.25,0.46],[24.75,0.42],[25.25,0.46],[25.75,0.4],[26.25,0.48],[26.75,0.42],[27.25,0.4],[27.75,0.36],[28.25,0.42],[28.75,0.36],[29.25,0.38],[29.75,0.34],[30.25,0.4],[30.75,0.34],[31.25,0.36],[31.75,0.32],[32.25,0.36],[32.75,0.3],[33.25,0.34],[33.75,0.28],[34.25,0.32],[34.75,0.26],
  [35.25,0.3],[35.75,0.22],[36.25,0.26],[36.75,0.22],[37.25,0.28],[37.75,0.2],[38.25,0.24],[38.75,0.2],[39.25,0.26],[39.75,0.18],[40.25,0.22],[40.75,0.18],[41.25,0.2],[41.75,0.22],[42.25,0.18],[42.75,0.2],[43.25,0.16],[43.75,0.22],[44.25,0.18],[44.75,0.16],[45.25,0.2],[45.75,0.16],[46.25,0.18],[46.75,0.14],[47.25,0.16],[47.75,0.18],[48.25,0.14],[48.75,0.17],[49.25,0.15],[49.75,0.13],[50.25,0.16],[50.75,0.14],[51.25,0.16],[51.75,0.13],[52.25,0.15],[52.75,0.12],[53.25,0.15],[53.75,0.13],[54.25,0.16],[54.75,0.13],[55.25,0.15],[55.75,0.12],[56.25,0.14],[56.75,0.15],[57.25,0.12],[57.75,0.14],[58.25,0.13],[58.75,0.11],[59.25,0.14],[59.75,0.12],
  [60.25,0.13],[60.75,0.11],[61.25,0.13],[61.75,0.12],[62.25,0.1],[62.75,0.12],[63.25,0.11],[63.75,0.13],[64.25,0.1],[64.75,0.12],[65.25,0.11],[65.75,0.12],[66.25,0.1],[66.75,0.11],[67.25,0.12],[67.75,0.1],[68.25,0.11],[68.75,0.12],[69.25,0.1],[69.75,0.12],[70.25,0.11],[70.75,0.1],[71.25,0.12],[71.75,0.1],[72.25,0.11],[72.75,0.12],[73.25,0.1],[73.75,0.11],[74.25,0.1],[74.75,0.12],[75.25,0.11],[75.75,0.1],[76.25,0.12],[76.75,0.11],[77.25,0.1],[77.75,0.12],[78.25,0.1],[78.75,0.11],[79.25,0.12],[79.75,0.1],[80.25,0.11],[80.75,0.12],[81.25,0.1],[81.75,0.11],[82.25,0.12],[82.75,0.14],[83.25,0.16],[83.75,0.14],[84.25,0.12],[84.75,0.17],[85.25,0.14],[85.75,0.12],
];

const panelData = [
  [...l1PrecisionA, ...l1PrecisionAExtra],
  [...l2PrecisionA, ...l2PrecisionAExtra],
  [...l1PrecisionB, ...l1PrecisionBExtra],
  [...l2PrecisionB, ...l2PrecisionBExtra],
  [...p1PrecisionA, ...p1PrecisionAExtra],
  [...p2PrecisionA, ...p2PrecisionAExtra],
  [...p1PrecisionB, ...p1PrecisionBExtra],
  [...p2PrecisionB, ...p2PrecisionBExtra],
];

// ---------- layout ----------
const FONT = "'Liberation Sans', Arial, Helvetica, sans-serif";
const layouts = [
  { left: 45, top: 9, width: 172, height: 157, nameGap: 23, nameSize: 15, xGap: 18 },
  { left: 277, top: 9, width: 171, height: 157, nameGap: 17, nameSize: 15, xGap: 18 },
  { left: 510, top: 8, width: 171, height: 156, nameGap: 28, nameSize: 14, xGap: 18 },
  { left: 741, top: 8, width: 172, height: 156, nameGap: 15, nameSize: 14, xGap: 18 },
  { left: 45, top: 225, width: 172, height: 159, nameGap: 22, nameSize: 15, xGap: 15 },
  { left: 277, top: 225, width: 172, height: 159, nameGap: 25, nameSize: 13, xGap: 15 },
  { left: 510, top: 225, width: 171, height: 157, nameGap: 26, nameSize: 13, xGap: 15 },
  { left: 741, top: 225, width: 172, height: 157, nameGap: 26, nameSize: 13, xGap: 15 },
];

export default function App() {
  const ref = useRef<HTMLDivElement>(null);

  useEffect(() => {
    if (!ref.current) return;
    const chart = echarts.init(ref.current, undefined, { renderer: "svg" });

    const grid = layouts.map((l) => ({
      left: l.left,
      top: l.top,
      width: l.width,
      height: l.height,
      show: true,
      borderColor: "#000",
      borderWidth: 1,
      backgroundColor: "transparent",
    }));

    const xAxis = layouts.map((l, i) => ({
      type: "value",
      gridIndex: i,
      min: 10,
      max: 90,
      interval: 10,
      name: xAxisTitle,
      nameLocation: "middle",
      nameGap: l.xGap,
      nameTextStyle: { fontSize: 14, color: "#111", fontFamily: FONT },
      axisLine: { show: false },
      axisTick: { show: false },
      splitLine: { show: false },
      axisLabel: {
        color: "#111",
        fontSize: 12,
        fontFamily: FONT,
        margin: 5,
        formatter: (v: number) => (v % 20 === 0 && v > 10 && v < 90 ? String(v) : ""),
      },
    }));

    const yAxis = layouts.map((l, i) => ({
      type: "value",
      gridIndex: i,
      min: 0,
      max: yAxisMax[i],
      interval: yAxisInterval[i],
      name: yAxisTitles[i],
      nameLocation: "middle",
      nameRotate: 90,
      nameGap: l.nameGap,
      nameTextStyle: { fontSize: l.nameSize, color: "#111", fontFamily: FONT },
      axisLine: { show: false },
      axisTick: { show: false },
      splitLine: { show: true, lineStyle: { color: "#000", width: 1 } },
      axisLabel: { color: "#111", fontSize: 12, fontFamily: FONT, margin: 5 },
    }));

    const series = panelData.map((data, i) => ({
      type: "scatter",
      xAxisIndex: i,
      yAxisIndex: i,
      data,
      symbol: "circle",
      symbolSize: 8,
      itemStyle: {
        color: "rgba(0,0,0,0)",
        borderColor: "#0000ff",
        borderWidth: 1,
        opacity: 1,
      },
      emphasis: { disabled: true },
      markLine: {
        silent: true,
        symbol: ["none", "none"],
        label: { show: false },
        animation: false,
        data: [
          ...elevationGridTicks.map((v) => ({
            xAxis: v,
            lineStyle: { color: "#000", type: "solid", width: 1 },
          })),
          {
            xAxis: cutoffElevation,
            lineStyle: { color: "#ff0000", type: "dashed", width: 1.5 },
          },
          {
            yAxis: 0,
            lineStyle: { color: "#e00000", type: "dashed", width: 1 },
          },
        ],
      },
    }));

    chart.setOption({
      animation: false,
      backgroundColor: "#fff",
      grid,
      xAxis,
      yAxis,
      series,
    } as any);

    return () => chart.dispose();
  }, []);

  return (
    <div
      ref={ref}
      style={{ position: "absolute", left: 0, top: 0, width: 916, height: 422, background: "#fff" }}
    />
  );
}
